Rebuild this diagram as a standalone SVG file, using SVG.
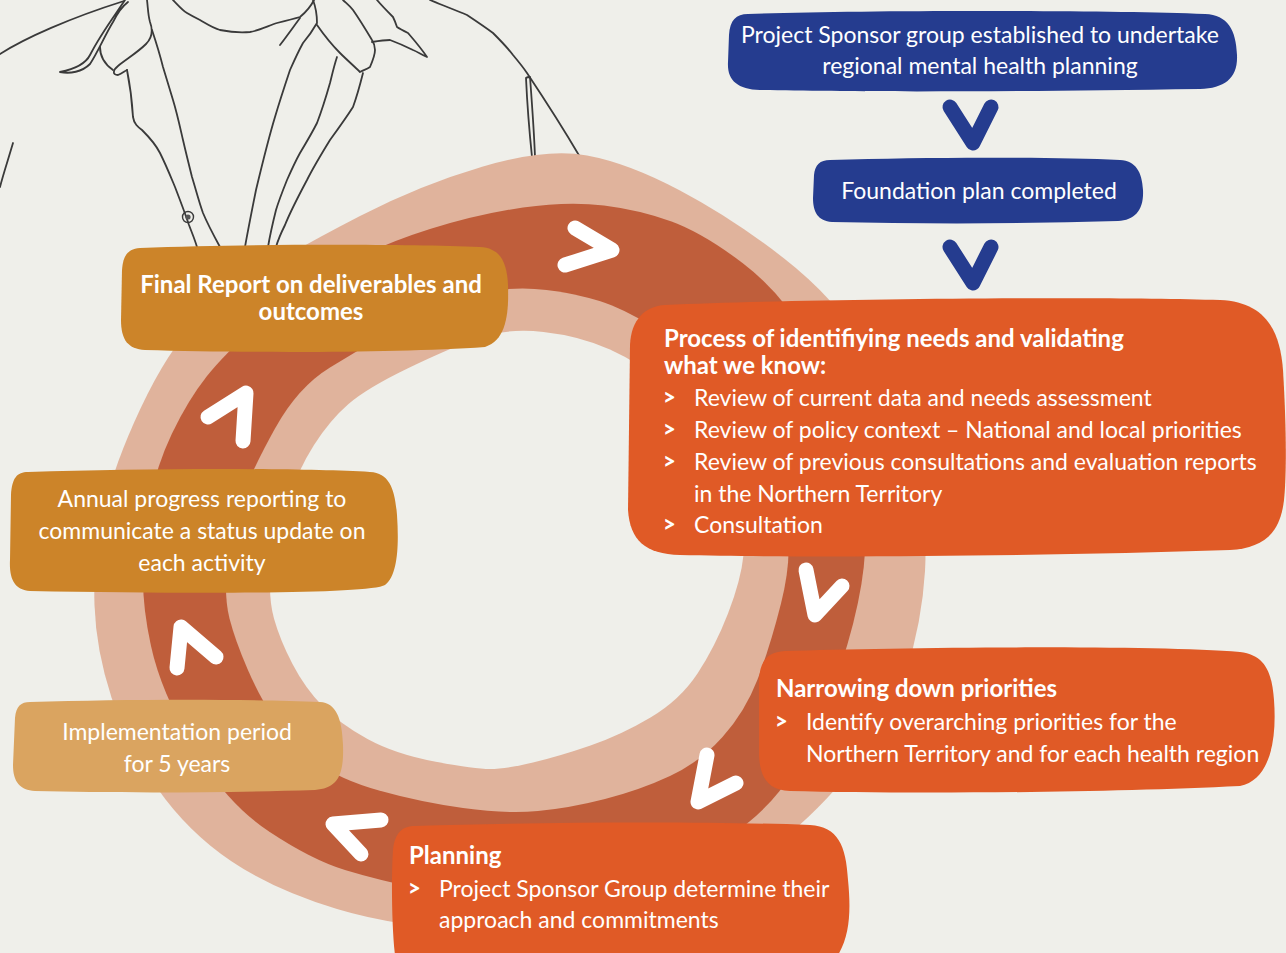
<svg xmlns="http://www.w3.org/2000/svg" width="1286" height="953" viewBox="0 0 1286 953">
  <defs>
    <style>
      .sketch { fill: none; stroke: #3a3a3a; stroke-width: 1.8; stroke-linejoin: round; stroke-linecap: round; }
      .ring-light { fill: #E0B39C; }
      .ring-dark { fill: #BF5E3B; }
      .bg { fill: #EFEFEA; }
      .blue { fill: #253C8F; }
      .orange { fill: #E05A26; }
      .gold { fill: #CC8429; }
      .tan { fill: #DAA460; }
      .chev-white { fill: none; stroke: #FFFFFF; stroke-width: 15; stroke-linecap: round; stroke-linejoin: round; }
      .chev-blue { fill: none; stroke: #253C8F; stroke-width: 15; stroke-linecap: round; stroke-linejoin: round; }
      text { font-family: Lato, "Open Sans", "Liberation Sans", sans-serif; fill: #FFFFFF; }
      .t { font-size: 23px; }
      .b { font-size: 24px; font-weight: bold; }
      .bul { font-size: 22px; font-weight: 900; }
      .c { text-anchor: middle; }
    </style>
  </defs>

  <!-- page background -->
  <rect class="bg" x="0" y="0" width="1286" height="953"/>

  <!-- line drawing of a shirt collar -->
  <g id="sketch">
    <path class="sketch" d="M0,54 C25,38 70,18 124,1"/>
    <path class="sketch" d="M13,143 C8,160 3,175 0,187"/>
    <path class="sketch" d="M125,0 C115,15 100,35 90,55 C85,65 70,70 60,72 C70,74 82,72 90,64 C98,52 105,35 113,22 C118,12 124,5 128,2"/>
    <path class="sketch" d="M147,0 C148,8 148,15 150,22 C153,30 152,38 146,44 C138,52 128,58 118,66 C113,70 112,75 118,75 C122,73 125,71 127,70"/>
    <path class="sketch" d="M100,47 C100,55 103,63 113,70"/>
    <path class="sketch" d="M127,70 C130,85 132,100 133,117 C134,124 138,127 142,130 C150,138 156,145 160,153 C166,165 170,175 175,187 C180,200 185,213 189,225 C192,233 195,240 197,247"/>
    <path class="sketch" d="M152,30 C156,42 160,55 163,67 C167,80 170,90 173,100 C177,113 180,127 183,140 C186,153 189,165 192,177 C196,190 199,202 203,213 C208,225 214,236 220,247"/>
    <circle cx="188" cy="217" r="5.5" fill="none" stroke="#3a3a3a" stroke-width="1.4"/>
    <circle cx="188" cy="217" r="2.6" fill="#555555"/>
    <path class="sketch" d="M173,0 C178,5 182,10 187,13 C192,16 196,18 200,20 C207,24 213,28 220,30 C230,32 240,33 250,32 C258,31 268,26 277,23 C285,21 293,19 300,17 C306,12 311,6 314,0"/>
    <path class="sketch" d="M300,18 C294,26 287,36 280,45"/>
    <path class="sketch" d="M313,0 C316,8 317,16 317,23 C313,30 308,37 303,43 C298,52 294,61 290,70 C285,85 280,100 275,117 C268,140 262,165 256,190 C252,210 248,230 245,247"/>
    <path class="sketch" d="M317,25 C324,35 332,45 340,53 C347,60 354,66 360,72 C364,70 367,69 370,67 C373,60 375,55 375,50 C375,46 374,43 372,40 C366,30 360,20 353,10 C350,6 346,3 343,0"/>
    <path class="sketch" d="M337,57 C334,66 332,75 330,83 C326,97 322,110 317,123 C312,133 306,143 300,153 C295,162 291,171 287,180 C283,190 279,200 276,210 C273,222 270,235 268,247"/>
    <path class="sketch" d="M363,73 C360,85 357,96 353,107 C346,118 338,129 330,140 C322,153 314,166 307,180 C299,195 291,210 285,225 C281,233 278,240 276,247"/>
    <path class="sketch" d="M377,0 C382,6 388,12 393,17 C395,21 396,24 397,27 C400,29 404,31 408,33 C414,40 421,48 427,57 C422,55 418,52 413,50 C405,46 398,43 390,40 C384,40 378,41 372,42"/>
    <path class="sketch" d="M430,0 C442,5 455,10 467,15 C476,21 485,27 493,33 C500,40 507,47 513,55 C518,61 523,67 527,73 C545,100 563,128 580,157"/>
    <path class="sketch" d="M526,78 C527,100 529,128 532,157 M535,157 C534,130 532,104 530,77 C528,77 527,77 526,78"/>
  </g>

  <!-- cycle ring: outer light band, dark band, inner light band, open centre -->
  <g id="ring">
    <path class="ring-light" d="M483,166.5 Q546,148 587,155.5 Q628,163 680,190.5 Q732,218 783.5,258 Q835,298 866.5,349 Q898,400 913,460 Q928,520 925,571 Q922,622 906,672 Q890,722 854,767 Q818,812 779,842 Q740,872 650,902 Q560,932 480,930 Q400,928 337,909 Q274,890 231,861 Q188,832 157.5,788.5 Q127,745 111.5,697.5 Q96,650 94.5,605 Q93,560 103,513.5 Q113,467 140.5,408.5 Q168,350 196.5,321.5 Q225,293 262.5,270 Q300,247 360,216 Q420,185 483,166.5 Z"/>
    <path class="ring-dark" d="M523,207.5 Q568,201 604,205.5 Q640,210 671.5,221.5 Q703,233 742.5,263 Q782,293 810,341.5 Q838,390 851,435 Q864,480 865.5,520 Q867,560 858,602.5 Q849,645 833,687.5 Q817,730 794.5,769 Q772,808 731,835 Q690,862 625,879.5 Q560,897 510,897 Q460,897 419,888.5 Q378,880 345,870 Q312,860 269,831.5 Q226,803 193.5,747.5 Q161,692 151,646 Q141,600 143.5,565 Q146,530 151,498.5 Q156,467 172,433.5 Q188,400 207,376 Q226,352 263,320 Q300,288 341,266 Q382,244 430,229 Q478,214 523,207.5 Z"/>
    <path class="ring-light" d="M468.5,296.5 Q507,285 546.5,290 Q586,295 612,305.5 Q638,316 670,338 Q702,360 727,395 Q752,430 767,465 Q782,500 787,530 Q792,560 781,603.5 Q770,647 757.5,679.5 Q745,712 722.5,737 Q700,762 670,776 Q640,790 605,799 Q570,808 538,811 Q506,814 463,808 Q420,802 379,790.5 Q338,779 314,760.5 Q290,742 275,720 Q260,698 247.5,669 Q235,640 229.5,618.5 Q224,597 227,563.5 Q230,530 241,500 Q252,470 275,428.5 Q298,387 330,367.5 Q362,348 396,328 Q430,308 468.5,296.5 Z"/>
    <path class="bg" d="M478.5,338 Q507,328 543.5,332 Q580,336 610,349.5 Q640,363 666,385.5 Q692,408 711,439 Q730,470 738,500 Q746,530 743.5,555 Q741,580 728,613.5 Q715,647 697.5,673.5 Q680,700 650.5,717.5 Q621,735 590.5,745.5 Q560,756 533,762.5 Q506,769 490,769 Q474,769 434.5,761.5 Q395,754 367.5,739 Q340,724 322.5,706 Q305,688 292.5,664 Q280,640 274,618.5 Q268,597 271,568.5 Q274,540 286,505 Q298,470 314,445 Q330,420 348.5,404 Q367,388 408.5,368 Q450,348 478.5,338 Z"/>
  </g>

  <!-- direction chevrons -->
  <g id="connectors">
    <path class="chev-blue" d="M950,107 L973,143 L991,107"/>
    <path class="chev-blue" d="M950,247 L973,283 L991,247"/>
    <path class="chev-white" d="M575,228 L612,250 L565,265"/>
    <path class="chev-white" d="M806,570 L815,615 L842,586"/>
    <path class="chev-white" d="M707,755 L698,802 L736,783"/>
    <path class="chev-white" d="M381,820 L333,824 L361,854"/>
    <path class="chev-white" d="M177,668 L181,627 L216,657"/>
    <path class="chev-white" d="M208,417 L246,393 L243,441"/>
  </g>

  <g id="sponsor-group">
    <path class="blue" d="M748,14 C860,10 1100,10 1205,14 C1228,15 1236,30 1237,55 C1238,78 1225,88 1200,89 C1000,92 850,92 760,90 C737,89 727,80 728,62 L729,35 C730,20 736,14 748,14 Z"/>
    <text class="t c" x="980" y="43">Project Sponsor group established to undertake</text>
    <text class="t c" x="980" y="74">regional mental health planning</text>
  </g>

  <g id="foundation-plan">
    <path class="blue" d="M830,160 C930,157 1050,157 1120,160 C1136,161 1142,172 1143,190 C1144,210 1135,220 1118,221 C1020,224 920,224 832,222 C818,221 813,212 813,198 L814,175 C815,165 820,160 830,160 Z"/>
    <text class="t c" x="979" y="199">Foundation plan completed</text>
  </g>

  <g id="identifying-needs">
    <path class="orange" d="M665,305 C800,299 1100,296 1220,300 C1265,302 1280,330 1283,370 C1286,420 1287,470 1284,500 C1280,535 1262,548 1230,550 C1050,556 820,558 680,555 C645,554 630,540 628,510 L630,345 C631,320 645,306 665,305 Z"/>
    <text class="b" x="664" y="347">Process of identifiying needs and validating</text>
    <text class="b" x="664" y="374">what we know:</text>
    <text class="bul" x="663" y="405">&gt;</text>
    <text class="t" x="694" y="406">Review of current data and needs assessment</text>
    <text class="bul" x="663" y="437">&gt;</text>
    <text class="t" x="694" y="438">Review of policy context – National and local priorities</text>
    <text class="bul" x="663" y="469">&gt;</text>
    <text class="t" x="694" y="470">Review of previous consultations and evaluation reports</text>
    <text class="t" x="694" y="502">in the Northern Territory</text>
    <text class="bul" x="663" y="532">&gt;</text>
    <text class="t" x="694" y="533">Consultation</text>
  </g>

  <g id="narrowing-priorities">
    <path class="orange" d="M785,651 C900,647 1150,645 1240,652 C1265,655 1272,672 1274,700 C1277,740 1270,780 1240,786 C1100,793 900,794 790,791 C768,790 760,778 759,755 L759,680 C760,660 768,652 785,651 Z"/>
    <text class="b" x="776" y="697">Narrowing down priorities</text>
    <text class="bul" x="775" y="729">&gt;</text>
    <text class="t" x="806" y="730">Identify overarching priorities for the</text>
    <text class="t" x="806" y="762">Northern Territory and for each health region</text>
  </g>

  <g id="planning">
    <path class="orange" d="M415,826 C550,822 700,821 810,825 C838,827 846,845 848,880 C851,910 850,935 838,955 L395,955 C392,930 391,880 393,850 C395,832 403,826 415,826 Z"/>
    <text class="b" x="409" y="864">Planning</text>
    <text class="bul" x="408" y="896">&gt;</text>
    <text class="t" x="439" y="897">Project Sponsor Group determine their</text>
    <text class="t" x="439" y="928">approach and commitments</text>
  </g>

  <g id="implementation">
    <path class="tan" d="M30,702 C130,699 250,699 320,702 C336,703 342,718 343,745 C344,775 338,788 315,790 C220,793 110,793 35,791 C20,790 13,782 13,765 L15,718 C16,706 21,702 30,702 Z"/>
    <text class="t c" x="177" y="740">Implementation period</text>
    <text class="t c" x="177" y="772">for 5 years</text>
  </g>

  <g id="annual-reporting">
    <path class="gold" d="M28,472 C150,468 300,468 370,472 C390,473 395,490 397,515 C399,545 398,575 385,585 C370,594 200,594 30,591 C15,590 9,580 10,560 L11,495 C12,478 17,472 28,472 Z"/>
    <text class="t c" x="202" y="507">Annual progress reporting to</text>
    <text class="t c" x="202" y="539">communicate a status update on</text>
    <text class="t c" x="202" y="571">each activity</text>
  </g>

  <g id="final-report">
    <path class="gold" d="M140,248 C250,244 400,244 480,247 C500,248 507,262 508,285 C509,315 506,340 485,347 C400,353 250,353 145,350 C128,349 121,340 121,320 L122,270 C123,255 128,249 140,248 Z"/>
    <text class="b c" x="311" y="293">Final Report on deliverables and</text>
    <text class="b c" x="311" y="320">outcomes</text>
  </g>
</svg>
